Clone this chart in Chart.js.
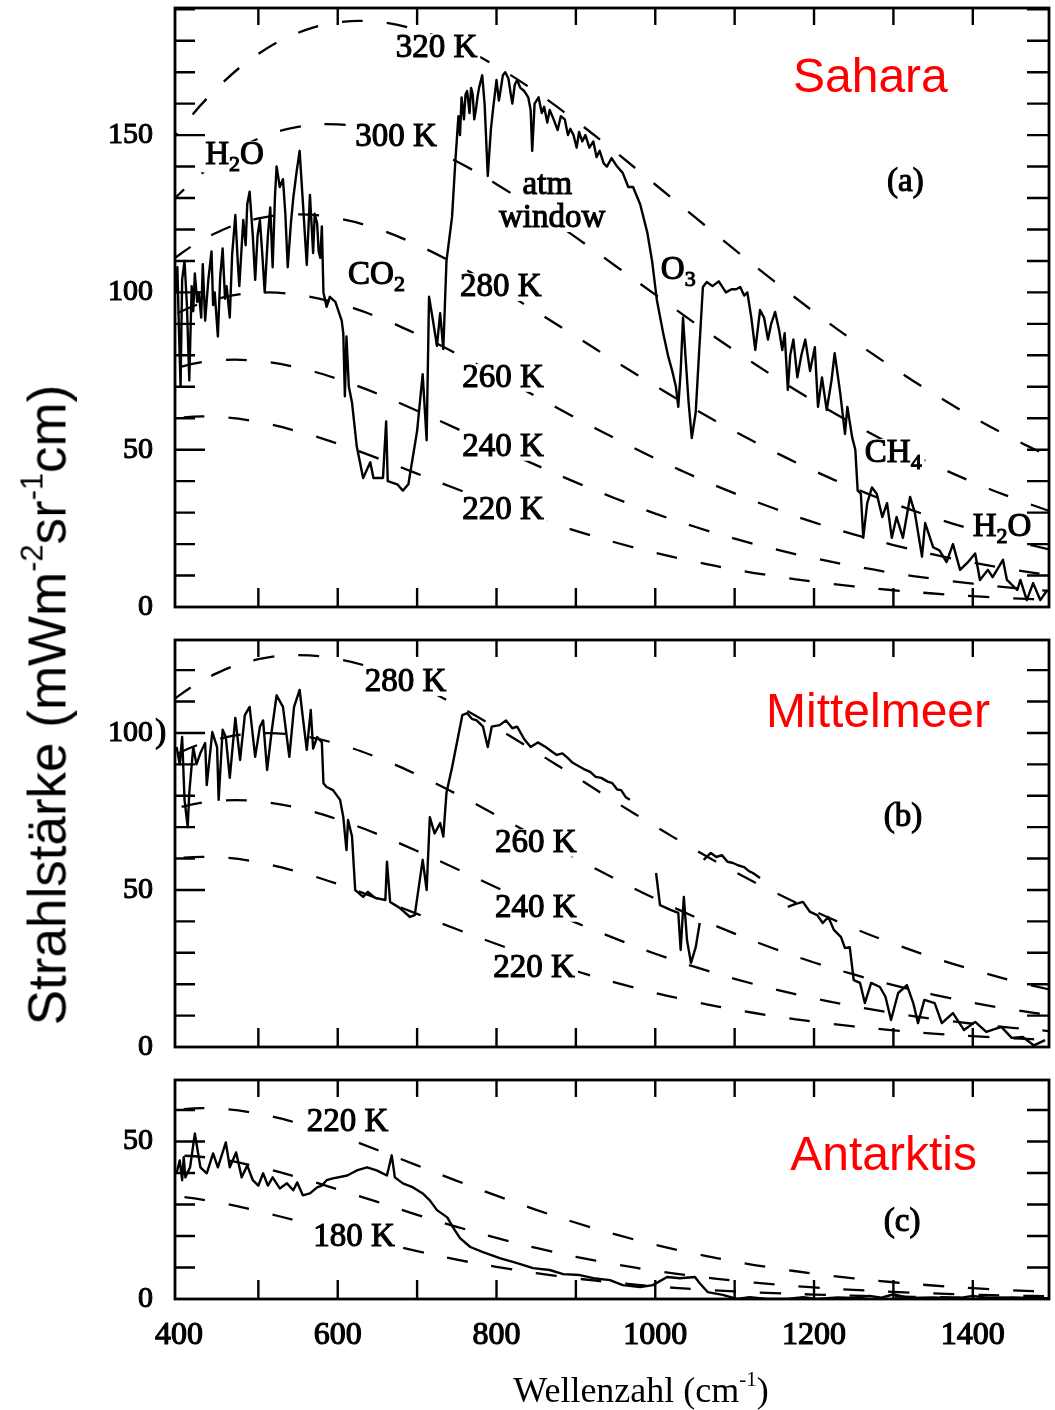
<!DOCTYPE html>
<html>
<head>
<meta charset="utf-8">
<script src="https://cdn.jsdelivr.net/npm/chart.js@4.4.1/dist/chart.umd.min.js"></script>
<style>
  body { margin: 0; background: #fff; }
  #wrap { position: relative; width: 1055px; height: 1410px; overflow: hidden; background: #fff; }
  canvas { position: absolute; left: 0; }
  .ytitle { position: absolute; left: 47px; top: 705px; transform: translate(-50%, -50%) rotate(-90deg);
            font: 53px "Liberation Sans", Arial, sans-serif; line-height: 1; white-space: nowrap; color: #000; }
  .xtitle { position: absolute; left: 641px; top: 1372px; transform: translateX(-50%);
            font: 36px "Liberation Serif", "Times New Roman", serif; line-height: 1; white-space: nowrap; color: #000; }
  sup { font-size: 58%; vertical-align: 0.75em; line-height: 0; }
</style>
</head>
<body>
<div id="wrap">
  <canvas id="sahara" width="1055" height="640" style="top:0"></canvas>
  <canvas id="mittelmeer" width="1055" height="470" style="top:610px"></canvas>
  <canvas id="antarktis" width="1055" height="320" style="top:1050px"></canvas>
  <div class="ytitle">Strahlstärke (mWm<sup>-2</sup>sr<sup>-1</sup>cm)</div>
  <div class="xtitle">Wellenzahl (cm<sup>-1</sup>)</div>
</div>
<script>
const planckNu = [350, 400, 450, 500, 550, 600, 650, 700, 750, 800, 850, 900, 950, 1000,
                  1050, 1100, 1150, 1200, 1250, 1300, 1350, 1400, 1450, 1500];

// Schwarzkörper-Strahlstärke in mW/(m2 sr cm-1)
const planck320 = [133.5, 151.2, 165.4, 175.8, 182.5, 185.8, 186.0, 183.4, 178.6, 171.8, 163.7, 154.5,
                   144.6, 134.3, 123.9, 113.6, 103.5, 93.8, 84.6, 76.0, 67.9, 60.4, 53.6, 47.4];
const planck300 = [117.2, 131.2, 141.8, 148.9, 152.6, 153.4, 151.5, 147.4, 141.6, 134.4, 126.2, 117.5,
                   108.4, 99.3, 90.2, 81.5, 73.2, 65.4, 58.1, 51.4, 45.3, 39.7, 34.7, 30.2];
const planck280 = [101.3, 111.9, 119.3, 123.5, 124.8, 123.5, 120.2, 115.1, 108.8, 101.6, 93.9, 86.0,
                   78.0, 70.3, 62.8, 55.8, 49.3, 43.3, 37.8, 32.9, 28.5, 24.6, 21.1, 18.1];
const planck260 = [86.0, 93.6, 98.1, 99.9, 99.2, 96.5, 92.2, 86.7, 80.5, 73.8, 66.9, 60.1,
                   53.5, 47.2, 41.4, 36.1, 31.3, 26.9, 23.1, 19.7, 16.7, 14.1, 11.9, 10.0];
const planck240 = [71.4, 76.2, 78.4, 78.2, 76.1, 72.5, 67.8, 62.4, 56.7, 50.8, 45.1, 39.6,
                   34.5, 29.7, 25.5, 21.7, 18.4, 15.5, 13.0, 10.8, 8.96, 7.40, 6.09, 5.00];
const planck220 = [57.6, 60.1, 60.4, 58.8, 55.8, 51.9, 47.3, 42.4, 37.5, 32.8, 28.3, 24.2,
                   20.5, 17.2, 14.4, 11.9, 9.82, 8.04, 6.55, 5.32, 4.29, 3.45, 2.77, 2.21];
const planck200 = [44.8, 45.5, 44.4, 41.9, 38.6, 34.8, 30.8, 26.7, 22.9, 19.4, 16.2, 13.4,
                   11.0, 8.95, 7.23, 5.80, 4.63, 3.67, 2.89, 2.27, 1.77, 1.38, 1.07, 0.83];
const planck180 = [33.1, 32.5, 30.6, 27.9, 24.7, 21.4, 18.2, 15.2, 12.5, 10.2, 8.20, 6.53,
                   5.15, 4.02, 3.12, 2.41, 1.84, 1.41, 1.07, 0.80, 0.60, 0.45, 0.34, 0.25];

// gemessene Spektren: [Wellenzahl, Strahlstaerke], null = Luecke in der Messung
const saharaSpektrum = [
  [396,100],[398,108],[400,88],[402,70],[404,104],[407,110],[410,96],[413,72],[416,102],[418,94],
  [420,106],[423,97],[425,100],[428,92],[430,109],[433,91],[437,104],[441,113],[443,96],[445,100],
  [449,86],[452,105],[455,114],[458,98],[460,102],[464,92],[467,112],[471,124.6],[474,110],[476,102],
  [481,123],[484,115],[486,128],[489,132],[493,118],[496,104],[499,118],[502,123],[505,112],[508,100],
  [512,118],[515,127],[518,108],[521,131],[523,140],[527,133.5],[531,136],[534,125],[537,108],[541,122],
  [544,130],[548,138],[552,145],[556,129],[561,108.7],[565,131],[569,112.5],[571,125],[574,122],[576,113],
  [578,111],[580,121],[582,100],[586,95.4],[590,98.6],[597,97],[605,91],[607,87],[609,67],[611,86],
  [614,70],[618,65],[624,51],[632,41],[641,46],[645,41],[657,41],[661,59],[663,40],[675,39],
  [682,37],[689,39],[700,56],[707,74],[712,53],[715,98.6],[720,91],[725,83],[729,93.4],[733,82],
  [737,110],[744,124],[748,141],[752,156],[754,150],[756,162],[759,155],[761,163],[763,164],[766,157],
  [768,165],[770,163],[772,155],[774,158],[776,162],[778,165],[782,169],[785,160],[789,137],[793,152],
  [796,159],[800,167.5],[803,161],[805,164],[808,169],[811,170],[815,168],[818,163],[820,160],[823,166],
  [826,167.5],[830,165],[835,164],[840,162],[843,158],[845,145],[848,160],[853,162],[857,157],[860,159],
  [864,154],[867,158],[872,155],[877,151.6],[881,156],[886,155],[890,150],[893,152],[897,150],[901,146],
  [904,151],[908,148],[912,150],[917,146],[922,148],[926,143],[930,145],[935,141],[939,140],[945,142.7],
  [952,140],[959,138],[966,133.5],[972,133.5],[981,128],[990,119],[996,110],[1002,97.6],[1010,87],[1016,80],
  [1022,74.4],[1026,70],[1029,63.6],[1032,75],[1035,92],[1038,80],[1042,65],[1046,53.7],[1051,62],[1055,80],
  [1060,101.7],[1065,103.3],[1072,102],[1080,103.5],[1089,100],[1096,101],[1102,101],[1107,101.7],[1112,99],[1116,100],
  [1121,92],[1126,81.7],[1132,94.4],[1137,92],[1142,85],[1146,90],[1151,93.8],[1156,88],[1160,81.7],[1163,87],
  [1167,69],[1170,80],[1174,85],[1179,73],[1184,80],[1189,85],[1195,75],[1201,82.6],[1205,63.6],[1210,73],
  [1216,62.6],[1222,72],[1226,80.7],[1233,68],[1239,55],[1242,63.6],[1248,54],[1252,50],[1255,37],[1259,36],
  [1262,22],[1267,33],[1273,38],[1279,36],[1286,28.6],[1292,33],[1298,22],[1304,28.6],[1312,22],[1321,35],
  [1327,30],[1336,16],[1340,26.7],[1350,19],[1358,18],[1367,14.3],[1375,20],[1384,11.8],[1393,14],[1403,17],
  [1409,8.6],[1419,11.8],[1425,9.5],[1438,15],[1443,8.6],[1456,5.4],[1460,8.6],[1468,2.2],[1476,7.6],[1485,2.2],
  [1494,5.4]
];

const mittelmeerSpektrum = [
  [397,95.5],[401,90],[404,98.7],[407,78.7],[411,70],[413,81],[418,95.5],[422,90],[427,93.6],[433,96.8],
  [435,83.4],[442,100.3],[448,95.5],[450,78.7],[455,101],[459,98.7],[464,85.7],[471,104.8],[477,91.4],[483,105.7],
  [489,108.3],[496,92.4],[502,102],[506,104],[511,88.2],[517,101],[523,112],[531,108.3],[539,92.4],[545,108.3],
  [552,113.7],[556,105],[561,94.6],[566,107.3],[569,95],[574,98.7],[580,97],[582,84],[586,82.8],[594,81.8],
  [603,78.7],[607,73.2],[611,62.7],[613,72.3],[618,67],[622,50],[632,47.8],[638,49.4],[647,47.5],[660,46.8],
  [662,59],[666,46.2],[678,44.3],[691,41.4],[697,42],[707,59.6],[712,50],[716,73.2],[722,68],[729,71.3],
  [733,67],[737,81],[744,89],[757,105.7],[763,106.3],[769,104.5],[775,104],[783,102],[789,95.5],[794,102],
  [804,102.5],[812,104],[820,101.5],[826,102],[835,98],[843,95.5],[852,97],[862,95.5],[870,94],[876,93],
  [883,93.5],[890,92],[896,90.5],[901,89.8],[910,88.5],[918,87.6],[925,86],[932,85.7],[940,84.5],[946,84],
  [952,82],[957,81.8],[963,79.5],[968,78.7],[985,null],[1001,55.4],[1006,45.2],[1020,43.6],[1029,42.7],[1032,30.9],
  [1036,47.8],[1040,34],[1045,26.8],[1051,31.8],[1056,39.5],[1058,null],[1061,59.6],[1070,61.8],[1077,60.5],[1084,61.1],
  [1091,59],[1098,58.6],[1105,57.8],[1112,57.3],[1118,56],[1123,55.4],[1132,53.8],[1150,null],[1167,44.6],[1176,45.5],
  [1186,46.2],[1195,43],[1204,42],[1211,39.5],[1218,41.4],[1225,37.3],[1234,35],[1239,31.5],[1245,31.8],[1250,21.3],
  [1258,20.4],[1264,14],[1272,20.4],[1283,19.1],[1290,16],[1297,8.6],[1306,17.2],[1317,19.7],[1325,14],[1331,7.6],
  [1339,15],[1352,14],[1361,7.6],[1375,10.8],[1389,5.4],[1403,8],[1417,4.8],[1436,6.4],[1449,2.9],[1463,3.2],
  [1477,0.5],[1491,2.2]
];

const antarktisSpektrum = [
  [397,40],[401,44],[404,37.7],[406,45],[408,38.6],[414,41.8],[420,52.5],[427,41.8],[435,39.9],[443,46.2],
  [449,41.8],[459,49.7],[464,41.8],[472,46.5],[479,38.6],[486,42.4],[493,37.7],[500,36],[506,39.9],[512,36],
  [518,38.6],[527,35.1],[536,36.7],[544,34.5],[549,37],[556,32.9],[565,33.5],[574,35.4],[580,36],[586,37.7],
  [594,38.3],[612,39.2],[624,40.8],[637,41.8],[649,40.8],[662,39.2],[668,45.6],[672,38.6],[682,36.7],[695,35.4],
  [707,33.5],[716,31.3],[725,28.2],[738,25.9],[745,22.8],[754,19.3],[767,16.5],[783,14.9],[804,13],[826,11.4],
  [846,9.8],[867,9.2],[884,7.9],[905,7.6],[922,6.6],[943,6],[959,4.4],[981,3.8],[997,4.4],[1015,7],
  [1031,6.6],[1050,7],[1056,5],[1066,2.2],[1085,1.3],[1103,0],[1119,0.6],[1141,0],[1166,0],[1186,0.6],
  [1204,0],[1230,0.5],[1250,0.3],[1270,1],[1285,0.4],[1300,1.5],[1320,0.3],[1350,0.5],[1380,0.2],[1400,1],
  [1420,0.3],[1450,0.5],[1496,0.2]
];

// Achsen
const nuMin = 395, nuMax = 1496;
const xTickLabels = [400, 600, 800, 1000, 1200, 1400];
const xTickMarks = [500, 600, 700, 800, 900, 1000, 1100, 1200, 1300, 1400];
const yTicksSahara = [0, 50, 100, 150];
const yTicksMittelmeer = [0, 50, 100];
const yTicksAntarktis = [0, 50];

// Beschriftungen: [Text, Wellenzahl, Strahlstaerke, Ausrichtung]; "_x" = tiefgestellt
const textSahara = [
  ['320 K', 673, 177.7, 'left'], ['300 K', 622, 149.4, 'left'], ['H_2O', 433, 143.7, 'left'],
  ['CO_2', 613, 105.5, 'left'], ['atm', 864, 134.1, 'center'], ['window', 870, 123.6, 'center'],
  ['280 K', 754, 101.7, 'left'], ['O_3', 1007, 107.1, 'left'], ['260 K', 757, 72.8, 'left'],
  ['240 K', 757, 50.9, 'left'], ['220 K', 757, 30.8, 'left'], ['CH_4', 1264, 49, 'left'],
  ['H_2O', 1400, 25.4, 'left'], ['(a)', 1315, 135, 'center']
];
const textMittelmeer = [
  ['280 K', 634, 116.2, 'left'], ['260 K', 798, 65, 'left'], ['240 K', 798, 44.3, 'left'],
  ['220 K', 796, 25.2, 'left'], ['(b)', 1312, 73.2, 'center'], [')', 370, 100, 'left']
];
const textAntarktis = [
  ['220 K', 561, 56, 'left'], ['180 K', 569, 19.6, 'left'], ['(c)', 1311, 24.4, 'center']
];
const ortSahara = ['Sahara', 1173.5, 163.7];
const ortMittelmeer = ['Mittelmeer', 1139.5, 101.9];
const ortAntarktis = ['Antarktis', 1170, 40.8];

const serif = '"Liberation Serif", "Times New Roman", serif';
const sans = '"Liberation Sans", Arial, sans-serif';

function splitRich(text) {
  const parts = [];
  for (let i = 0; i < text.length; i++) {
    if (text[i] === '_' && i + 1 < text.length) { parts.push([text[i + 1], true]); i++; }
    else parts.push([text[i], false]);
  }
  return parts;
}

// Text mit tiefgestellten Zeichen ("H_2O") auf weissem Grund zeichnen
function drawRich(ctx, text, x, y, align, size) {
  const parts = splitRich(text);
  const subSize = Math.round(size * 0.68);
  const width = parts.reduce((w, [c, sub]) => {
    ctx.font = (sub ? subSize : size) + 'px ' + serif;
    return w + ctx.measureText(c).width;
  }, 0);
  let cx = align === 'center' ? x - width / 2 : x;
  const hasSub = parts.some(p => p[1]);
  ctx.fillStyle = '#fff';
  ctx.fillRect(cx - 3, y - size * 0.42, width + 6, size * (hasSub ? 0.95 : 0.84));
  ctx.fillStyle = '#000';
  ctx.textAlign = 'left';
  ctx.textBaseline = 'middle';
  parts.forEach(([c, sub]) => {
    ctx.font = (sub ? subSize : size) + 'px ' + serif;
    const cy = sub ? y + size * 0.3 : y;
    ctx.fillText(c, cx, cy);
    ctx.strokeText(c, cx, cy);
    cx += ctx.measureText(c).width;
  });
}

// Temperatur- und Gasbeschriftungen sowie Ortsname
const textPlugin = {
  id: 'texte',
  afterDatasetsDraw(chart, args, opts) {
    const { ctx, scales: { x, y } } = chart;
    ctx.save();
    ctx.strokeStyle = '#000';
    ctx.lineWidth = 1.1;
    opts.items.forEach(([t, nu, val, align]) => {
      drawRich(ctx, t, x.getPixelForValue(nu), y.getPixelForValue(val), align, 33);
    });
    const [name, nu, val] = opts.ort;
    ctx.font = '48px ' + sans;
    ctx.fillStyle = '#ff0000';
    ctx.textAlign = 'left';
    ctx.textBaseline = 'alphabetic';
    ctx.fillText(name, x.getPixelForValue(nu), y.getPixelForValue(val));
    ctx.restore();
  }
};

// Rahmen mit innenliegenden Teilstrichen
const rahmenPlugin = {
  id: 'rahmen',
  afterDatasetsDraw(chart) {
    const { ctx, chartArea: a, scales: { x, y } } = chart;
    ctx.save();
    ctx.strokeStyle = '#000';
    ctx.lineWidth = 2.8;
    ctx.strokeRect(a.left, a.top, a.right - a.left, a.bottom - a.top);
    ctx.lineWidth = 2.4;
    ctx.beginPath();
    xTickMarks.forEach(v => {
      const px = x.getPixelForValue(v);
      ctx.moveTo(px, a.top); ctx.lineTo(px, a.top + 17);
      ctx.moveTo(px, a.bottom); ctx.lineTo(px, a.bottom - 19);
    });
    for (let v = 10; v < y.max; v += 10) {
      const py = y.getPixelForValue(v);
      ctx.moveTo(a.left, py); ctx.lineTo(a.left + (v % 50 === 0 ? 30 : 20), py);
      ctx.moveTo(a.right, py); ctx.lineTo(a.right - 22, py);
    }
    ctx.stroke();
    ctx.restore();
  }
};

function spektrumSet(spektrum) {
  return {
    data: spektrum.map(([nu, v]) => ({ x: nu, y: v })),
    borderColor: '#000', borderWidth: 2.4, pointRadius: 0, tension: 0,
    spanGaps: false, borderJoinStyle: 'round'
  };
}

function planckSet(werte) {
  return {
    data: planckNu.map((nu, i) => ({ x: nu, y: werte[i] })),
    borderColor: '#000', borderWidth: 2.3, borderDash: [21, 24], pointRadius: 0, tension: 0.4
  };
}

function makeChart(id, datasets, cfg) {
  return new Chart(document.getElementById(id), {
    type: 'line',
    data: { datasets },
    options: {
      responsive: false,
      animation: false,
      events: [],
      layout: { padding: { top: cfg.top, right: 6, bottom: cfg.bottom, left: 0 } },
      plugins: {
        legend: { display: false },
        tooltip: { enabled: false },
        texte: { items: cfg.texte, ort: cfg.ort }
      },
      scales: {
        x: {
          type: 'linear', min: nuMin, max: nuMax,
          display: cfg.showX,
          grid: { display: false, drawTicks: false },
          border: { display: false },
          afterBuildTicks: s => { s.ticks = xTickLabels.map(v => ({ value: v })); },
          afterFit: s => { s.height = cfg.xHeight || 0; s.paddingLeft = 0; s.paddingRight = 0; },
          ticks: {
            padding: 17, color: '#000', maxRotation: 0, autoSkip: false,
            font: { family: serif, size: 32 },
            textStrokeColor: '#000', textStrokeWidth: 1.2,
            callback: v => String(v)
          }
        },
        y: {
          type: 'linear', min: 0, max: cfg.yMax,
          grid: { display: false, drawTicks: false },
          border: { display: false },
          afterBuildTicks: s => { s.ticks = cfg.yTicks.map(v => ({ value: v })); },
          afterFit: s => { s.width = 175; s.paddingTop = 0; s.paddingBottom = 0; },
          ticks: {
            padding: 22, color: '#000',
            font: { family: serif, size: 30 },
            textStrokeColor: '#000', textStrokeWidth: 1.1,
            callback: v => String(v)
          }
        }
      }
    },
    plugins: [textPlugin, rahmenPlugin]
  });
}

makeChart('sahara', [
  spektrumSet(saharaSpektrum),
  planckSet(planck320), planckSet(planck300), planckSet(planck280),
  planckSet(planck260), planckSet(planck240), planckSet(planck220)
], { top: 8, bottom: 33, yMax: 190.4, yTicks: yTicksSahara, showX: false, texte: textSahara, ort: ortSahara });

makeChart('mittelmeer', [
  spektrumSet(mittelmeerSpektrum),
  planckSet(planck280), planckSet(planck260), planckSet(planck240), planckSet(planck220)
], { top: 30, bottom: 33, yMax: 129.6, yTicks: yTicksMittelmeer, showX: false, texte: textMittelmeer, ort: ortMittelmeer });

makeChart('antarktis', [
  spektrumSet(antarktisSpektrum),
  planckSet(planck220), planckSet(planck200), planckSet(planck180)
], { top: 30, bottom: 0, yMax: 69.5, yTicks: yTicksAntarktis, showX: true, xHeight: 71, texte: textAntarktis, ort: ortAntarktis });
</script>
</body>
</html>
